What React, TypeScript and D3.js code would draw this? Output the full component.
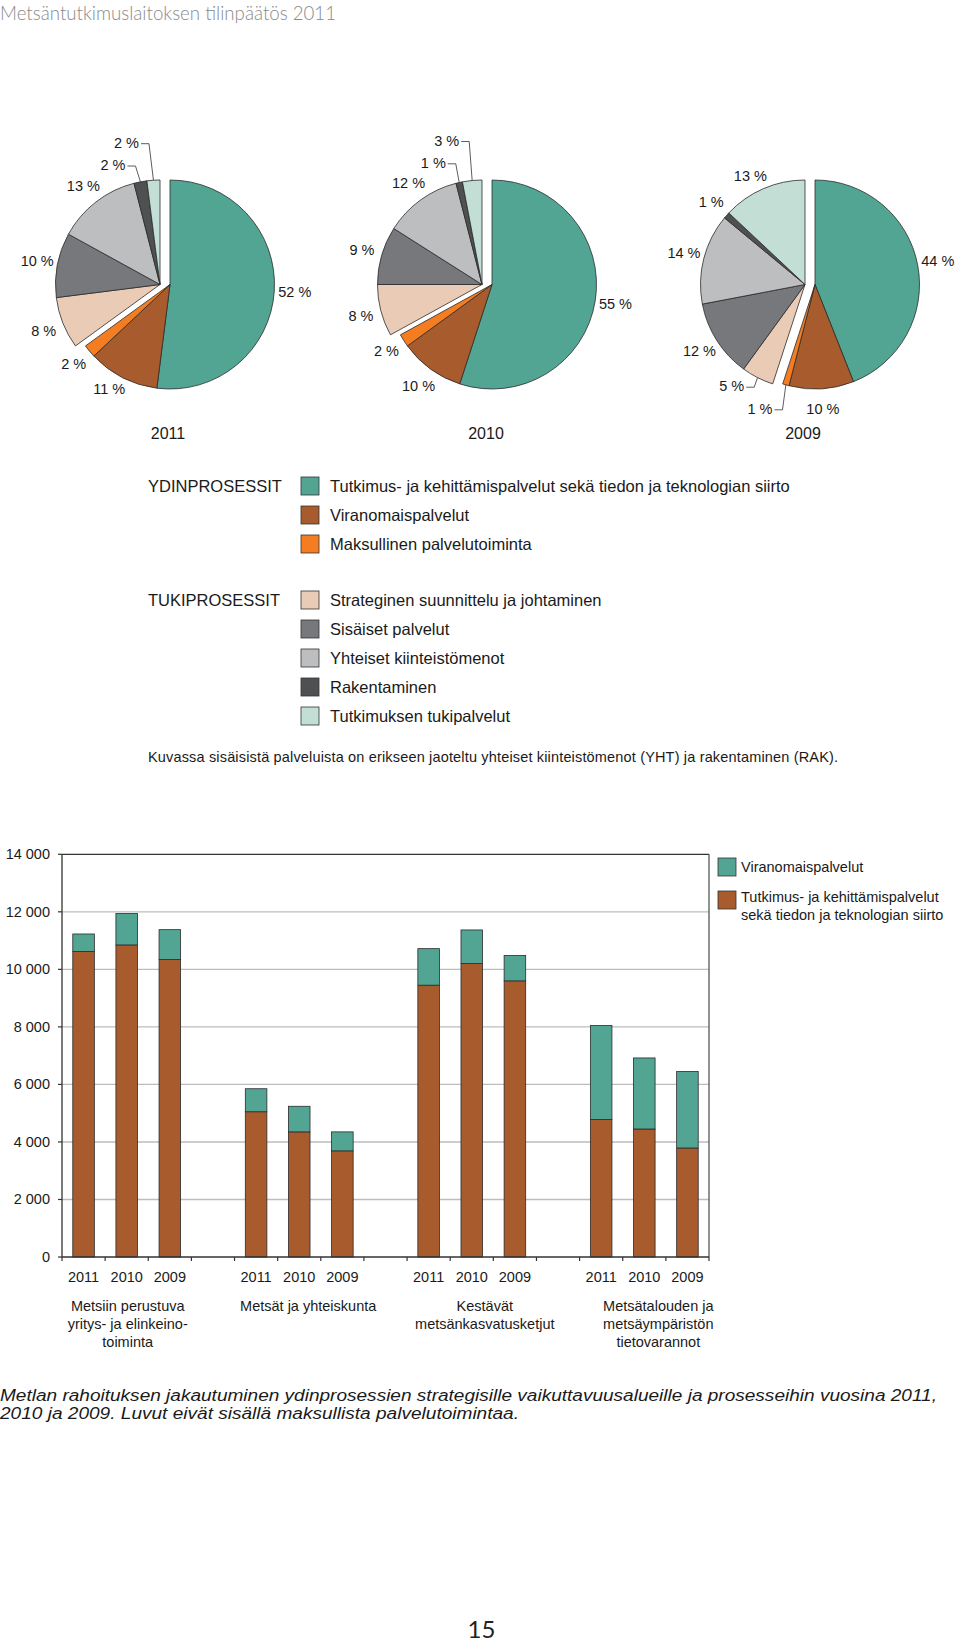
import React from 'react';
import * as d3 from 'd3';

// ---------- DATA ----------
const pageTitle = 'Metsäntutkimuslaitoksen tilinpäätös 2011';
const pieYears = ['2011', '2010', '2009'];
const pieCategories = [
  'Tutkimus- ja kehittämispalvelut sekä tiedon ja teknologian siirto',
  'Viranomaispalvelut',
  'Maksullinen palvelutoiminta',
  'Strateginen suunnittelu ja johtaminen',
  'Sisäiset palvelut',
  'Yhteiset kiinteistömenot',
  'Rakentaminen',
  'Tutkimuksen tukipalvelut',
];
const pieColors = ['#52a593', '#a85b2c', '#f47d22', '#e9cbb6', '#77787b', '#bdbec0', '#4f5052', '#c3ded4'];
const pie2011 = [52, 11, 2, 8, 10, 13, 2, 2];
const pie2010 = [55, 10, 2, 8, 9, 12, 1, 3];
const pie2009 = [44, 10, 1, 5, 12, 14, 1, 13];
const pieValues = [pie2011, pie2010, pie2009];
const coreCount = 3; // first three slices = YDINPROSESSIT
const legendGroups = ['YDINPROSESSIT', 'TUKIPROSESSIT'];
// labels placed outside with a leader line: [pie, slice, dx, dy from pie centre]
const leaderLabels: [number, number, number, number][] = [
  [0, 6, -57, -119.5],
  [0, 7, -43.5, -141.8],
  [1, 6, -58.7, -121.7],
  [1, 7, -45.3, -144],
  [2, 2, -55, 124.3],
  [2, 3, -83.3, 101.7],
];
// labels nudged without leader: [pie, slice, dx, dy]
const labelNudges: [number, number, number, number][] = [
  [0, 1, -4, -7],
  [2, 7, -5, 6],
];
const footnote = 'Kuvassa sisäisistä palveluista on erikseen jaoteltu yhteiset kiinteistömenot (YHT) ja rakentaminen (RAK).';

const barGroups = [
  ['Metsiin perustuva', 'yritys- ja elinkeino-', 'toiminta'],
  ['Metsät ja yhteiskunta'],
  ['Kestävät', 'metsänkasvatusketjut'],
  ['Metsätalouden ja', 'metsäympäristön', 'tietovarannot'],
];
const groupLabelDx = [1, 9, 13, 14];
const barYears = ['2011', '2010', '2009'];
// bottom segment (brown) and top segment (teal), per group x year
const tutkimusValues = [10620, 10850, 10340, 5050, 4350, 3690, 9450, 10200, 9600, 4780, 4450, 3790];
const viranomaisValues = [610, 1090, 1040, 800, 890, 660, 1270, 1170, 880, 3270, 2470, 2660];
const barLegend = [
  { label: ['Viranomaispalvelut'], color: '#52a593' },
  { label: ['Tutkimus- ja kehittämispalvelut', 'sekä tiedon ja teknologian siirto'], color: '#a85b2c' },
];
const yTicks = [0, 2000, 4000, 6000, 8000, 10000, 12000, 14000];
const captionLines = [
  'Metlan rahoituksen jakautuminen ydinprosessien strategisille vaikuttavuusalueille ja prosesseihin vuosina 2011,',
  '2010 ja 2009. Luvut eivät sisällä maksullista palvelutoimintaa.',
];
const pageNumber = '15';

// ---------- LAYOUT ----------
const FONT = '"Liberation Sans", Arial, Helvetica, sans-serif';
const W = 960;
const H = 1642;
const PIE_CX = [170, 492, 815];
const PIE_CY = 284.5;
const R = 104.5;
const SHIFT = -10;
const LABEL_R = 125;
const yearLabelDx = [-2, -6, -12];

let measureCtx: CanvasRenderingContext2D | null = null;
function textWidth(t: string, size: number) {
  if (!measureCtx) {
    const c = document.createElement('canvas');
    measureCtx = c.getContext('2d');
  }
  if (!measureCtx) return t.length * size * 0.5;
  measureCtx.font = `${size}px ${FONT}`;
  return measureCtx.measureText(t).width;
}

function Pies() {
  const pieGen = d3.pie<number>().sort(null).value((d) => d);
  const arcGen = d3.arc<d3.PieArcDatum<number>>().innerRadius(0).outerRadius(R);
  return (
    <g>
      {pieValues.map((vals, p) => {
        const cx = PIE_CX[p];
        const arcs = pieGen(vals);
        return (
          <g key={p}>
            {arcs.map((a, i) => {
              const ox = i >= coreCount ? SHIFT : 0;
              return (
                <path
                  key={i}
                  d={arcGen(a) || ''}
                  transform={`translate(${cx + ox},${PIE_CY})`}
                  fill={pieColors[i]}
                  stroke="#2b2b2b"
                  strokeWidth={0.8}
                  strokeLinejoin="round"
                />
              );
            })}
            {arcs.map((a, i) => {
              const ox = i >= coreCount ? SHIFT : 0;
              const mid = (a.startAngle + a.endAngle) / 2;
              const label = `${vals[i]} %`;
              const lead = leaderLabels.find((l) => l[0] === p && l[1] === i);
              if (lead) {
                const tx = cx + lead[2];
                const ty = PIE_CY + lead[3];
                const w = textWidth(label, 14.5);
                const px = cx + ox + R * Math.sin(mid);
                const py = PIE_CY - R * Math.cos(mid);
                const x0 = tx + w / 2 + 2;
                return (
                  <g key={'l' + i}>
                    <text x={tx} y={ty} textAnchor="middle" dominantBaseline="central" fontSize={14.5} fill="#1a1a1a">
                      {label}
                    </text>
                    <polyline
                      points={`${x0},${ty + 1} ${x0 + 8},${ty + 1} ${px},${py}`}
                      fill="none"
                      stroke="#333"
                      strokeWidth={0.8}
                    />
                  </g>
                );
              }
              const nudge = labelNudges.find((l) => l[0] === p && l[1] === i);
              const tx = cx + ox + LABEL_R * Math.sin(mid) + (nudge ? nudge[2] : 0);
              const ty = PIE_CY - LABEL_R * Math.cos(mid) + (nudge ? nudge[3] : 0);
              return (
                <text key={'l' + i} x={tx} y={ty} textAnchor="middle" dominantBaseline="central" fontSize={14.5} fill="#1a1a1a">
                  {label}
                </text>
              );
            })}
            <text x={cx + yearLabelDx[p]} y={433} textAnchor="middle" dominantBaseline="central" fontSize={16} fill="#1a1a1a">
              {pieYears[p]}
            </text>
          </g>
        );
      })}
    </g>
  );
}

function PieLegend() {
  const rows = [486, 515, 544, 600, 629, 658, 687, 716];
  return (
    <g>
      <text x={148} y={rows[0]} dominantBaseline="central" fontSize={16.5} fill="#1a1a1a">{legendGroups[0]}</text>
      <text x={148} y={rows[coreCount]} dominantBaseline="central" fontSize={16.5} fill="#1a1a1a">{legendGroups[1]}</text>
      {pieCategories.map((c, i) => (
        <g key={i}>
          <rect x={301} y={rows[i] - 9} width={18} height={18} fill={pieColors[i]} stroke="#333" strokeWidth={0.8} />
          <text x={330} y={rows[i]} dominantBaseline="central" fontSize={16.5} fill="#1a1a1a">{c}</text>
        </g>
      ))}
      <text x={148} y={757} dominantBaseline="central" fontSize={14.5} fill="#1a1a1a" textLength={690} lengthAdjust="spacing">
        {footnote}
      </text>
    </g>
  );
}

function Bars() {
  const left = 62;
  const right = 709;
  const y = d3.scaleLinear().domain([0, 14000]).range([1257, 854.3]);
  const slots = d3.range(barGroups.length * 4 - 1).map(String);
  const slotScale = d3.scaleBand<string>().domain(slots).range([left, right]).padding(0);
  const x = d3.scaleBand<string>().domain(slots).range([left, right]).paddingInner(0.5).paddingOuter(0.25);
  const bw = x.bandwidth();
  const boundaries = slots.map((s) => slotScale(s) as number).concat([right]);
  const fmt = (v: number) => d3.format(',')(v).replace(/,/g, ' ');
  const bars: { slot: string; brown: number; teal: number }[] = [];
  barGroups.forEach((_, g) => {
    barYears.forEach((__, k) => {
      const idx = g * 3 + k;
      bars.push({ slot: String(g * 4 + k), brown: tutkimusValues[idx], teal: viranomaisValues[idx] });
    });
  });
  return (
    <g>
      {yTicks.slice(1, -1).map((t) => (
        <line key={t} x1={left} x2={right} y1={y(t)} y2={y(t)} stroke="#bdbdbd" strokeWidth={1.4} />
      ))}
      {bars.map((b, i) => {
        const bx = x(b.slot) as number;
        return (
          <g key={i}>
            <rect x={bx} y={y(b.brown)} width={bw} height={y(0) - y(b.brown)} fill="#a85b2c" stroke="#2b2b2b" strokeWidth={0.8} />
            <rect
              x={bx}
              y={y(b.brown + b.teal)}
              width={bw}
              height={y(b.brown) - y(b.brown + b.teal)}
              fill="#52a593"
              stroke="#2b2b2b"
              strokeWidth={0.8}
            />
          </g>
        );
      })}
      <line x1={left} x2={right} y1={y(14000)} y2={y(14000)} stroke="#333" strokeWidth={1.3} />
      <line x1={right} x2={right} y1={y(14000)} y2={y(0)} stroke="#555" strokeWidth={1.3} />
      <line x1={left} x2={left} y1={y(14000)} y2={y(0)} stroke="#333" strokeWidth={1.3} />
      <line x1={left} x2={right} y1={y(0)} y2={y(0)} stroke="#333" strokeWidth={1.3} />
      {yTicks.map((t) => (
        <g key={t}>
          <line x1={left - 4} x2={left} y1={y(t)} y2={y(t)} stroke="#333" strokeWidth={1.2} />
          <text x={50} y={y(t)} textAnchor="end" dominantBaseline="central" fontSize={14.5} fill="#1a1a1a">
            {fmt(t)}
          </text>
        </g>
      ))}
      {boundaries.map((bx, i) => (
        <line key={i} x1={bx} x2={bx} y1={y(0)} y2={y(0) + 4} stroke="#333" strokeWidth={1.2} />
      ))}
      {bars.map((b, i) => (
        <text key={i} x={(x(b.slot) as number) + bw / 2} y={1277} textAnchor="middle" dominantBaseline="central" fontSize={14.5} fill="#1a1a1a">
          {barYears[i % 3]}
        </text>
      ))}
      {barGroups.map((lines, g) => {
        const cx = (slotScale(String(g * 4 + 1)) as number) + slotScale.bandwidth() / 2 + groupLabelDx[g];
        return lines.map((ln, j) => (
          <text key={g + '-' + j} x={cx} y={1306 + j * 18} textAnchor="middle" dominantBaseline="central" fontSize={14.5} fill="#1a1a1a">
            {ln}
          </text>
        ));
      })}
      {barLegend.map((l, i) => (
        <g key={i}>
          <rect x={718} y={858 + i * 33} width={18} height={18} fill={l.color} stroke="#333" strokeWidth={0.8} />
          {l.label.map((ln, j) => (
            <text key={j} x={741} y={867 + i * 30 + j * 18} dominantBaseline="central" fontSize={14.5} fill="#1a1a1a">
              {ln}
            </text>
          ))}
        </g>
      ))}
    </g>
  );
}

export default function App() {
  return (
    <svg
      width={W}
      height={H}
      viewBox={`0 0 ${W} ${H}`}
      style={{ position: 'absolute', left: 0, top: 0, background: '#fff' }}
      fontFamily={FONT}
    >
      <rect x={0} y={0} width={W} height={H} fill="#fff" />
      <text x={0} y={19.5} fontFamily="Lato, 'Open Sans', sans-serif" fontWeight={300} fontSize={19} fill="#8a8a8a" textLength={336} lengthAdjust="spacingAndGlyphs">
        {pageTitle}
      </text>
      <Pies />
      <PieLegend />
      <Bars />
      {captionLines.map((ln, i) => (
        <text
          key={i}
          x={0}
          y={1395 + i * 18.5}
          dominantBaseline="central"
          fontSize={16}
          fontStyle="italic"
          fill="#1a1a1a"
          textLength={i === 0 ? 937 : 519}
          lengthAdjust="spacingAndGlyphs"
        >
          {ln}
        </text>
      ))}
      <text x={481.5} y={1628} textAnchor="middle" dominantBaseline="central" fontFamily="Lato, 'Open Sans', sans-serif" fontSize={24} fill="#222">
        {pageNumber}
      </text>
    </svg>
  );
}
